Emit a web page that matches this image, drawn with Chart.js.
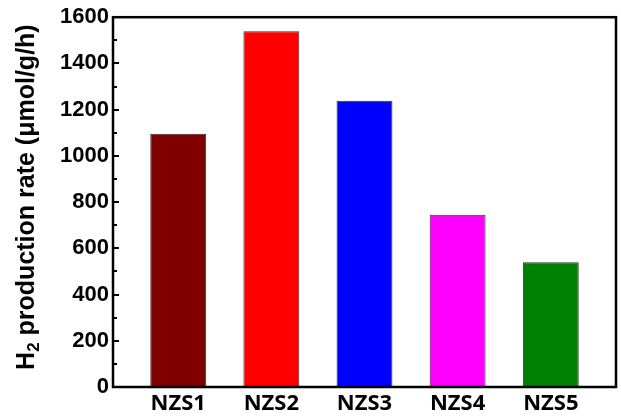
<!DOCTYPE html>
<html>
<head>
<meta charset="utf-8">
<script src="https://cdn.jsdelivr.net/npm/chart.js@4/dist/chart.umd.min.js"></script>
<style>
  html, body { margin: 0; padding: 0; background: #fff; }
  #wrap { width: 621px; height: 419px; }
</style>
</head>
<body>
<div id="wrap"><canvas id="chart" width="621" height="419"></canvas></div>
<script>
/* ---- data ---- */
const categories = ['NZS1', 'NZS2', 'NZS3', 'NZS4', 'NZS5'];
const rates      = [1096, 1539, 1238, 745, 540];
const barColors  = ['#800000', '#ff0000', '#0000ff', '#ff00ff', '#008000'];
const yTicks     = [0, 200, 400, 600, 800, 1000, 1200, 1400, 1600];

const AXIS_FONT = "'Liberation Sans', Arial, sans-serif";

// frame around plot + inward ticks on y axis
const framePlugin = {
  id: 'frame',
  afterDraw(chart) {
    const { ctx, chartArea: a, scales } = chart;
    ctx.save();
    ctx.strokeStyle = '#000';
    ctx.lineWidth = 2.5;
    ctx.strokeRect(a.left, a.top, a.right - a.left, a.bottom - a.top);

    // major / minor ticks pointing into the plot
    ctx.lineWidth = 2;
    for (let v = 100; v < 1600; v += 100) {
      const y = Math.round(scales.y.getPixelForValue(v));
      const len = v % 200 === 0 ? 6 : 4;
      ctx.beginPath();
      ctx.moveTo(a.left, y);
      ctx.lineTo(a.left + len, y);
      ctx.stroke();
    }
    ctx.restore();
  }
};

// y title with a real subscript 2 (H2)
const yTitlePlugin = {
  id: 'yTitle',
  afterDraw(chart) {
    const { ctx, chartArea: a } = chart;
    const big = 'bold 25px ' + AXIS_FONT;
    const small = 'bold 17px ' + AXIS_FONT;
    const parts = [
      { t: 'H', f: big, dy: 0 },
      { t: '2', f: small, dy: 7 },
      { t: ' production rate (\u03bcmol/g/h)', f: big, dy: 0 }
    ];
    ctx.save();
    let total = 0;
    parts.forEach(p => { ctx.font = p.f; p.w = ctx.measureText(p.t).width; total += p.w; });
    ctx.translate(27, (a.top + a.bottom) / 2 - 5);
    ctx.rotate(-Math.PI / 2);
    ctx.fillStyle = '#000';
    ctx.textBaseline = 'middle';
    let x = -total / 2;
    parts.forEach(p => {
      ctx.font = p.f;
      ctx.fillText(p.t, x, p.dy);
      x += p.w;
    });
    ctx.restore();
  }
};

new Chart(document.getElementById('chart'), {
  type: 'bar',
  data: {
    datasets: [{
      data: rates.map((v, i) => ({ x: i + 1, y: v })),
      backgroundColor: barColors,
      borderColor: '#333',
      borderWidth: 1,
      barPercentage: 0.6,
      categoryPercentage: 1
    }]
  },
  options: {
    responsive: false,
    animation: false,
    layout: { padding: { top: 16, right: 5, left: 0, bottom: 0 } },
    plugins: { legend: { display: false }, tooltip: { enabled: false } },
    scales: {
      x: {
        type: 'linear',
        offset: false,
        min: 0.3,
        max: 5.7,
        grid: { display: false, drawTicks: false, offset: false },
        border: { display: false },
        afterBuildTicks: s => { s.ticks = categories.map((_, i) => ({ value: i + 1 })); },
        afterFit: s => { s.height = 32; },
        ticks: {
          padding: 4,
          color: '#000',
          font: { family: "'Noto Sans', 'Open Sans', sans-serif", size: 22, weight: 'bold' },
          callback: v => categories[v - 1] || ''
        }
      },
      y: {
        min: 0,
        max: 1600,
        afterBuildTicks: s => { s.ticks = yTicks.map(v => ({ value: v })); },
        afterFit: s => { s.width = 113; },
        grid: { display: false, drawTicks: false },
        border: { display: false },
        ticks: {
          padding: 4,
          color: '#000',
          font: { family: AXIS_FONT, size: 22, weight: 'bold' },
          callback: v => String(v)
        }
      }
    }
  },
  plugins: [framePlugin, yTitlePlugin]
});
</script>
</body>
</html>
